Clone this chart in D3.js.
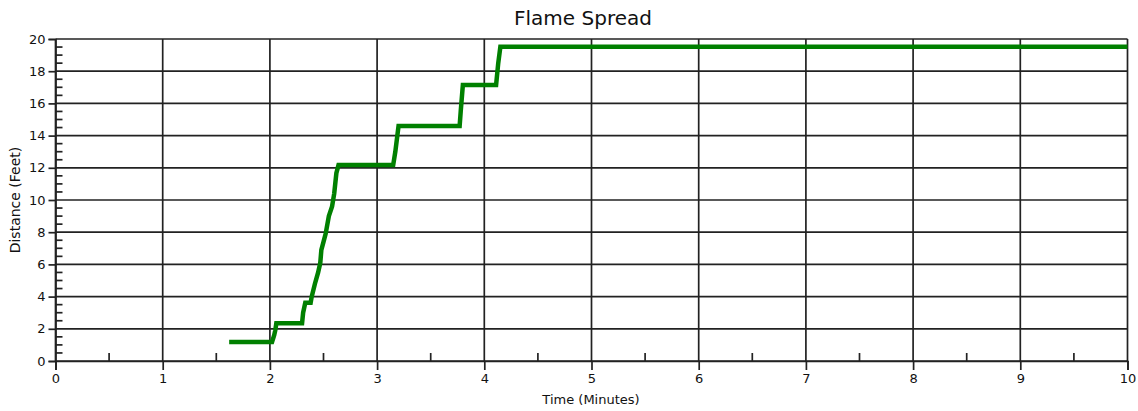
<!DOCTYPE html>
<html>
<head>
<meta charset="utf-8">
<script src="https://cdn.jsdelivr.net/npm/d3@7"></script>
<style>
  html, body { margin: 0; padding: 0; background: #fff; }
  svg { display: block; }
  text { font-family: "DejaVu Sans", sans-serif; fill: #111; }
</style>
</head>
<body>
<svg id="chart" width="1138" height="411"></svg>
<script>
// ---- data ----
const title = "Flame Spread";
const xLabel = "Time (Minutes)";
const yLabel = "Distance (Feet)";
const xTicks = [0, 1, 2, 3, 4, 5, 6, 7, 8, 9, 10];
const yTicks = [0, 2, 4, 6, 8, 10, 12, 14, 16, 18, 20];
const timeMin = [1.62, 2.02, 2.04, 2.05, 2.06, 2.30, 2.31, 2.33, 2.38, 2.39, 2.42, 2.45, 2.47, 2.48, 2.50, 2.52, 2.55, 2.58, 2.60, 2.62, 2.64, 3.15, 3.17, 3.20, 3.77, 3.78, 3.80, 4.11, 4.13, 4.15, 10.0];
const distFt  = [1.18, 1.18, 1.6, 1.9, 2.34, 2.34, 3.0, 3.62, 3.62, 4.0, 4.8, 5.5, 6.1, 6.9, 7.4, 7.9, 9.0, 9.6, 10.4, 11.66, 12.17, 12.17, 13.0, 14.6, 14.6, 15.5, 17.14, 17.14, 18.5, 19.52, 19.52];

// ---- layout ----
const svg = d3.select("#chart");
const pL = 55.5, pR = 1127.5, pT = 39, pB = 361;
const x = d3.scaleLinear().domain([0, 10]).range([pL, pR]);
const y = d3.scaleLinear().domain([0, 20]).range([pB, pT]);
const gridColor = "#222";

// grid
const grid = svg.append("g");
grid.selectAll("line.v").data(xTicks).join("line").attr("class", "v")
  .attr("x1", d => x(d)).attr("x2", d => x(d))
  .attr("y1", pT).attr("y2", pB)
  .attr("stroke", gridColor).attr("stroke-width", 1.7);
grid.selectAll("line.h").data(yTicks).join("line").attr("class", "h")
  .attr("x1", pL).attr("x2", pR)
  .attr("y1", d => y(d)).attr("y2", d => y(d))
  .attr("stroke", gridColor).attr("stroke-width", 1.7);

// minor ticks
const xMinor = d3.range(0.5, 10, 1);
svg.append("g").selectAll("line").data(xMinor).join("line")
  .attr("x1", d => x(d)).attr("x2", d => x(d))
  .attr("y1", pB).attr("y2", pB - 8)
  .attr("stroke", gridColor).attr("stroke-width", 1.7);
const yMinor = d3.range(0, 20, 0.5).filter(v => v % 2 !== 0);
svg.append("g").selectAll("line").data(yMinor).join("line")
  .attr("x1", pL).attr("x2", pL + 7)
  .attr("y1", d => y(d)).attr("y2", d => y(d))
  .attr("stroke", gridColor).attr("stroke-width", 1.7);

// axes with D3
const xAxis = d3.axisBottom(x).tickValues(xTicks).tickSize(9).tickPadding(4).tickFormat(d3.format("d"));
const gx = svg.append("g").attr("transform", `translate(0,${pB})`).call(xAxis);
const yAxis = d3.axisLeft(y).tickValues(yTicks).tickSize(7).tickPadding(3).tickFormat(d3.format("d"));
const gy = svg.append("g").attr("transform", `translate(${pL},0)`).call(yAxis);
[gx, gy].forEach(g => {
  g.select(".domain").attr("stroke", gridColor).attr("stroke-width", 1.7);
  g.selectAll(".tick line").attr("stroke", gridColor).attr("stroke-width", 1.7);
  g.selectAll(".tick text").attr("font-family", "DejaVu Sans, sans-serif").attr("font-size", 13).attr("fill", "#111");
});

// line
const pts = timeMin.map((t, i) => [t, distFt[i]]);
svg.append("path").datum(pts)
  .attr("fill", "none").attr("stroke", "#008000").attr("stroke-width", 4.5)
  .attr("stroke-linejoin", "miter").attr("stroke-linecap", "butt")
  .attr("d", d3.line().x(d => x(d[0])).y(d => y(d[1])));

// title and labels
svg.append("text").attr("x", 583).attr("y", 25).attr("text-anchor", "middle")
  .attr("font-size", 20).text(title);
svg.append("text").attr("x", 591).attr("y", 404).attr("text-anchor", "middle")
  .attr("font-size", 13).text(xLabel);
svg.append("text").attr("transform", `translate(20,${(pT + pB) / 2}) rotate(-90)`)
  .attr("text-anchor", "middle").attr("font-size", 14).text(yLabel);
</script>
</body>
</html>
